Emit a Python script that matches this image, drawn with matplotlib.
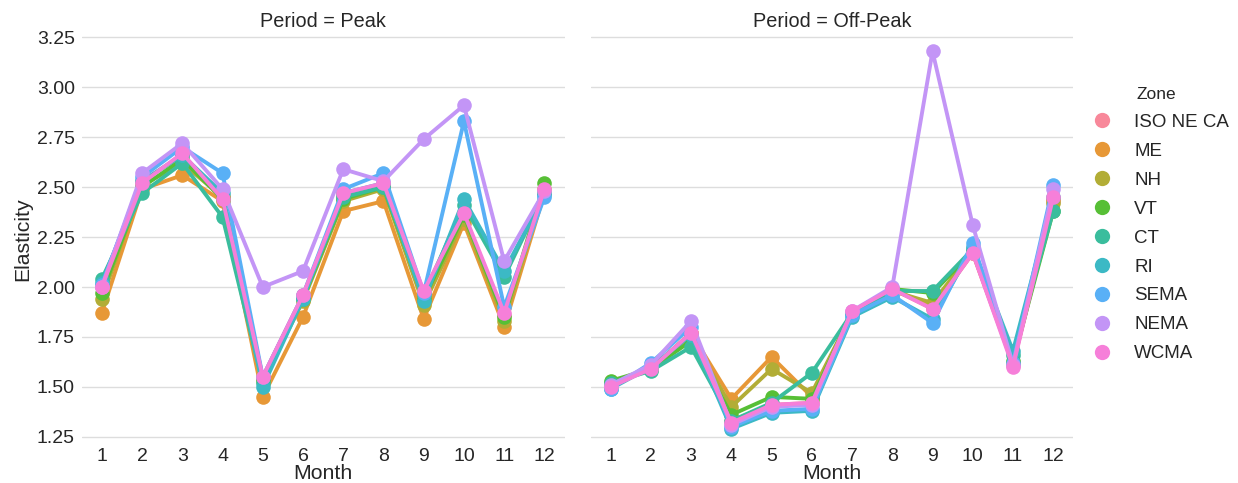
import numpy as np
import matplotlib
matplotlib.use("Agg")
from matplotlib import pyplot as plt
from matplotlib.lines import Line2D
import seaborn as sns

sns.set_theme(style="whitegrid")
plt.rcParams['font.family'] = ['Liberation Sans', 'DejaVu Sans']

months = ["1", "2", "3", "4", "5", "6", "7", "8", "9", "10", "11", "12"]
zones = ["ISO NE CA", "ME", "NH", "VT", "CT", "RI", "SEMA", "NEMA", "WCMA"]
periods = ["Peak", "Off-Peak"]

# elasticity per zone, month 1..12
peak = {
    "ISO NE CA": [2.00, 2.53, 2.66, 2.45, 1.55, 1.96, 2.46, 2.51, 1.97, 2.36, 1.86, 2.48],
    "ME":        [1.87, 2.49, 2.56, 2.43, 1.45, 1.85, 2.38, 2.43, 1.84, 2.32, 1.80, 2.47],
    "NH":        [1.94, 2.51, 2.62, 2.45, 1.53, 1.93, 2.43, 2.49, 1.91, 2.34, 1.83, 2.49],
    "VT":        [1.97, 2.50, 2.64, 2.44, 1.54, 1.94, 2.44, 2.50, 1.94, 2.36, 1.85, 2.52],
    "CT":        [2.04, 2.47, 2.62, 2.35, 1.52, 1.95, 2.45, 2.50, 1.96, 2.41, 2.05, 2.47],
    "RI":        [2.02, 2.53, 2.66, 2.47, 1.50, 1.94, 2.47, 2.52, 1.93, 2.44, 2.08, 2.46],
    "SEMA":      [2.01, 2.55, 2.70, 2.57, 1.55, 1.96, 2.49, 2.57, 1.97, 2.83, 1.90, 2.45],
    "NEMA":      [2.00, 2.57, 2.72, 2.49, 2.00, 2.08, 2.59, 2.53, 2.74, 2.91, 2.13, 2.48],
    "WCMA":      [2.00, 2.52, 2.67, 2.44, 1.55, 1.96, 2.47, 2.52, 1.98, 2.37, 1.87, 2.49],
}
offpeak = {
    "ISO NE CA": [1.51, 1.59, 1.77, 1.33, 1.41, 1.42, 1.87, 1.99, 1.89, 2.17, 1.61, 2.43],
    "ME":        [1.52, 1.59, 1.77, 1.44, 1.65, 1.45, 1.87, 1.99, 1.90, 2.17, 1.62, 2.44],
    "NH":        [1.52, 1.59, 1.75, 1.40, 1.59, 1.47, 1.87, 1.98, 1.92, 2.18, 1.62, 2.42],
    "VT":        [1.53, 1.59, 1.73, 1.36, 1.45, 1.44, 1.87, 1.99, 1.97, 2.18, 1.63, 2.38],
    "CT":        [1.52, 1.58, 1.70, 1.33, 1.42, 1.57, 1.87, 1.98, 1.98, 2.19, 1.66, 2.38],
    "RI":        [1.49, 1.60, 1.76, 1.29, 1.37, 1.38, 1.85, 1.95, 1.84, 2.20, 1.68, 2.45],
    "SEMA":      [1.49, 1.62, 1.80, 1.30, 1.38, 1.39, 1.86, 1.96, 1.82, 2.22, 1.62, 2.51],
    "NEMA":      [1.51, 1.61, 1.83, 1.31, 1.40, 1.41, 1.88, 2.00, 3.18, 2.31, 1.61, 2.49],
    "WCMA":      [1.50, 1.59, 1.77, 1.32, 1.41, 1.42, 1.88, 1.99, 1.89, 2.17, 1.60, 2.45],
}
data = {"Peak": peak, "Off-Peak": offpeak}

colors = sns.husl_palette(len(zones), l=0.7)

fig = plt.figure(figsize=(12.38, 4.83), dpi=100)
ax1 = fig.add_axes([0.066, 0.075, 0.39, 0.86])
ax2 = fig.add_axes([0.477, 0.075, 0.39, 0.86], sharey=ax1)
axes = [ax1, ax2]

xpos = np.arange(len(months))
for ax, per in zip(axes, periods):
    for z, c in zip(zones, colors):
        ax.plot(xpos, data[per][z], color=c, lw=2.8, marker='o', ms=10.5,
                markeredgewidth=0, solid_capstyle='round')
    ax.set_xticks(xpos)
    ax.set_xticklabels(months)
    ax.set_xlim(-0.5, len(months) - 0.5)
    ax.grid(axis='x', visible=False)
    ax.grid(axis='y', color='#dddddd', lw=1)
    for s in ax.spines.values():
        s.set_visible(False)
    ax.set_title("Period = " + per, fontsize=14.3, color='#262626', pad=3)
    ax.set_xlabel("Month", fontsize=15.3, color='#262626', labelpad=-1)
    ax.tick_params(axis='both', labelsize=14, colors='#262626', length=0, pad=5)
    ax.tick_params(axis='x', pad=1)

ax1.set_ylim(1.20, 3.28)
ax1.set_yticks([1.25, 1.5, 1.75, 2.0, 2.25, 2.5, 2.75, 3.0, 3.25])
ax1.set_ylabel("Elasticity", fontsize=15.3, color='#262626', labelpad=3)
plt.setp(ax2.get_yticklabels(), visible=False)

handles = [Line2D([], [], ls='none', marker='o', ms=11, color=c, markeredgewidth=0) for c in colors]
leg = fig.legend(handles, zones, title="Zone", loc='center left', bbox_to_anchor=(0.861, 0.535),
                 frameon=False, fontsize=13.5, title_fontsize=12.5, handletextpad=0.75,
                 labelspacing=0.63)

plt.savefig("out.png", dpi=100)
